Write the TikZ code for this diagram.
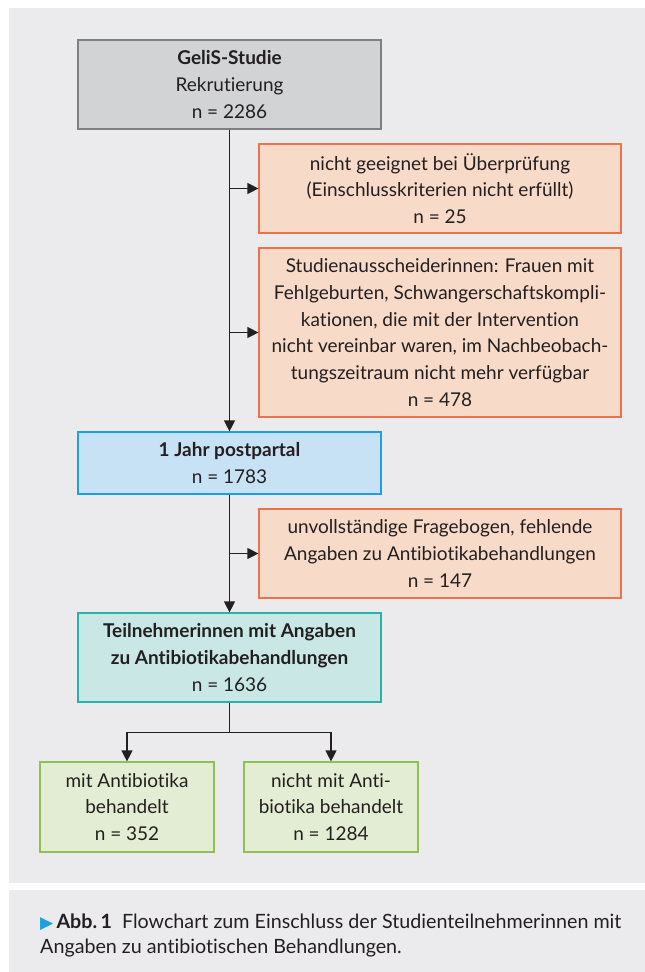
\documentclass[tikz,border=0pt]{standalone}
\usepackage{fontspec}
\setmainfont{Lato}[Ligatures=NoCommon]
\newfontfamily\capfont{Lato}[Ligatures=NoCommon]
\newfontfamily\symbolfont{DejaVu Sans}
\usetikzlibrary{arrows.meta, positioning}
\usepackage{xcolor}
\definecolor{panelgrey}{HTML}{EBEBED}
\definecolor{textdark}{HTML}{231F20}
\definecolor{greyfill}{HTML}{D2D3D5}
\definecolor{greyline}{HTML}{7F7F80}
\definecolor{orangefill}{HTML}{F8DAC8}
\definecolor{orangeline}{HTML}{E9734A}
\definecolor{bluefill}{HTML}{C8E2F5}
\definecolor{blueline}{HTML}{1BA1DE}
\definecolor{tealfill}{HTML}{C9E7E5}
\definecolor{tealline}{HTML}{27B3A9}
\definecolor{greenfill}{HTML}{E3EDD3}
\definecolor{greenline}{HTML}{8DC152}

\begin{document}
\begin{tikzpicture}[
x=1pt, y=-1pt,
font=\fontsize{19}{26.7}\selectfont,
box/.style={draw,
rectangle,
line width=1.2pt,
inner sep=0pt,
text=textdark,
align=center},
mainbox/.style={box, minimum width=303pt, minimum height=89pt},
sidebox/.style={box, fill=orangefill, draw=orangeline, minimum width=362pt, minimum height=89pt},
resultbox/.style={box, fill=greenfill, draw=greenline, minimum width=174pt, minimum height=90pt},
arrow/.style={-{Triangle[length=11pt, width=11pt]}, line width=1.2pt, textdark}
]

\useasboundingbox (0,0) rectangle (645,972);
\fill[panelgrey] (9,8) rectangle (645,883);
\fill[panelgrey] (9,890) rectangle (645,972);

% Hauptstrang
\node[mainbox, fill=greyfill, draw=greyline] (rekrutierung) at (229.5,84.5) {\textbf{GeliS-Studie}\\Rekrutierung\\n = 2286};
\node[mainbox, fill=bluefill, draw=blueline, minimum height=62pt] (postpartal) at (229.5,463) {\textbf{1 Jahr postpartal}\\n = 1783};
\node[mainbox, fill=tealfill, draw=tealline] (teilnehmerinnen) at (229.5,657.5) {\textbf{Teilnehmerinnen mit Angaben}\\\textbf{zu Antibiotikabehandlungen}\\n = 1636};

% Ausschluesse
\node[sidebox] (ungeeignet) at (440,188.5) {nicht geeignet bei Überprüfung\\(Einschlusskriterien nicht erfüllt)\\n = 25};
\node[sidebox, minimum height=169pt] (ausscheiderinnen) at (440,332.5) {Studienausscheiderinnen: Frauen mit\\Fehlgeburten, Schwangerschaftskompli-\\kationen, die mit der Intervention\\nicht vereinbar waren, im Nachbeobach-\\tungszeitraum nicht mehr verfügbar\\n = 478};
\node[sidebox] (unvollstaendig) at (440,553.5) {unvollständige Fragebogen, fehlende\\Angaben zu Antibiotikabehandlungen\\n = 147};

% Gruppen
\node[resultbox] (mitab) at (127,807) {mit Antibiotika\\behandelt\\n = 352};
\node[resultbox] (ohneab) at (331,807) {nicht mit Anti-\\biotika behandelt\\n = 1284};

\draw[arrow] (rekrutierung) -- (postpartal);
\draw[arrow] (rekrutierung.south |- ungeeignet.west) -- (ungeeignet.west);
\draw[arrow] (rekrutierung.south |- ausscheiderinnen.west) -- (ausscheiderinnen.west);
\draw[arrow] (postpartal) -- (teilnehmerinnen);
\draw[arrow] (postpartal.south |- unvollstaendig.west) -- (unvollstaendig.west);
\draw[line width=1.2pt, textdark] (teilnehmerinnen.south) -- ++(0,30) coordinate (gabelung);
\draw[arrow] (gabelung) -| (mitab.north);
\draw[arrow] (gabelung) -| (ohneab.north);

% Legende
\node[anchor=west, align=left, text=textdark, inner sep=0pt, font=\capfont\fontsize{19.7}{25}\selectfont] (legende) at (40,935.5) {{\symbolfont\color{blueline}\fontsize{17}{25}\selectfont ▶}\,\textbf{Abb.\,1}\ \ Flowchart zum Einschluss der Studienteilnehmerinnen mit\\Angaben zu antibiotischen Behandlungen.};

\end{tikzpicture}
\end{document}
